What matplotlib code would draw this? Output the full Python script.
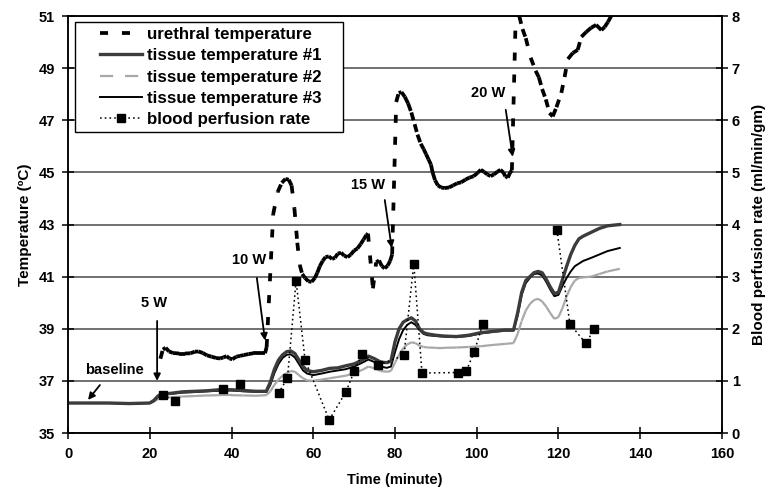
import numpy as np
import matplotlib
matplotlib.use('Agg')
import matplotlib.pyplot as plt
from matplotlib.lines import Line2D
from matplotlib.legend_handler import HandlerLine2D

plt.rcParams['font.family'] = ['Liberation Sans', 'DejaVu Sans']
plt.rcParams['font.weight'] = 'bold'
plt.rcParams['lines.scale_dashes'] = False

# ---------------- data ----------------
t_tissue = [0, 5, 10, 15, 20, 21, 22, 23, 25, 28, 31, 34, 37, 40, 43, 46, 48.5, 49.5, 50.5,
            51.5, 52.5, 53.5, 54.5, 55.5, 56.5, 57.5, 58.5, 60, 62, 64, 66, 68, 70, 72, 73.5,
            75, 76.5, 78, 79, 80, 81, 82, 83, 84, 85, 86, 87, 88, 90, 92, 95, 98, 101, 104,
            107, 109, 110, 111, 112, 113, 114, 115, 116, 117, 118, 119, 120, 121, 122, 123,
            124, 125, 126, 128, 130, 132, 135]
tissue1 = [36.15, 36.15, 36.15, 36.13, 36.15, 36.25, 36.42, 36.5, 36.52, 36.58, 36.6, 36.62,
           36.66, 36.66, 36.63, 36.6, 36.6, 36.95, 37.45, 37.8, 38.0, 38.12, 38.15, 38.05,
           37.8, 37.55, 37.4, 37.35, 37.4, 37.48, 37.5, 37.58, 37.65, 37.8, 37.95, 37.85,
           37.72, 37.7, 37.75, 38.5, 39.0, 39.25, 39.35, 39.42, 39.3, 39.0, 38.85, 38.8,
           38.75, 38.72, 38.7, 38.75, 38.85, 38.9, 38.95, 38.95, 39.6, 40.4, 40.85, 41.0,
           41.15, 41.2, 41.15, 40.9, 40.6, 40.35, 40.4, 40.9, 41.4, 41.85, 42.2, 42.45,
           42.55, 42.7, 42.85, 42.95, 43.0]
tissue2 = [36.15, 36.15, 36.15, 36.14, 36.15, 36.2, 36.3, 36.35, 36.37, 36.4, 36.42, 36.44,
           36.45, 36.45, 36.44, 36.43, 36.45, 36.6, 36.85, 37.05, 37.2, 37.3, 37.38, 37.35,
           37.22, 37.1, 37.02, 37.0, 37.05, 37.1, 37.15, 37.2, 37.3, 37.42, 37.55, 37.48,
           37.38, 37.35, 37.38, 37.7, 38.0, 38.25, 38.4, 38.48, 38.45, 38.35, 38.3, 38.28,
           38.27, 38.27, 38.28, 38.3, 38.33, 38.38, 38.42, 38.45, 38.8, 39.3, 39.7, 39.95,
           40.1, 40.15, 40.05, 39.85, 39.6, 39.38, 39.45, 39.8, 40.25, 40.6, 40.85, 40.95,
           40.97, 41.0, 41.1, 41.2, 41.3]
tissue3 = [36.15, 36.15, 36.15, 36.13, 36.15, 36.22, 36.38, 36.45, 36.5, 36.55, 36.57, 36.6,
           36.62, 36.63, 36.6, 36.58, 36.57, 36.85, 37.3, 37.65, 37.88, 38.0, 38.02, 37.9,
           37.65, 37.4, 37.28, 37.22, 37.28, 37.35, 37.4, 37.45, 37.55, 37.7, 37.82, 37.72,
           37.55, 37.5, 37.55, 38.1, 38.6, 38.95, 39.15, 39.25, 39.15, 38.95, 38.8, 38.75,
           38.72, 38.7, 38.68, 38.72, 38.82, 38.88, 38.93, 38.93, 39.5, 40.3, 40.75, 40.95,
           41.1, 41.12, 41.05, 40.8, 40.5, 40.25, 40.3, 40.65, 40.95, 41.2, 41.4, 41.5,
           41.6, 41.72, 41.85, 41.98, 42.1]

t_urethral = [22.6, 23.2, 23.9, 24.7, 25.7, 27.2, 28.6, 30.0, 31.0, 31.9, 33.0, 34.0, 35.1,
              36.2, 37.2, 38.0, 38.8, 39.5, 40.2, 41.2, 42.1, 43.0, 44.2, 45.3, 46.5, 47.5,
              48.2, 48.6, 50.2, 51.3, 52.3, 53.2, 54.0, 54.7, 55.4, 56.1, 56.7, 57.3, 58.0,
              58.8, 59.6, 60.4, 61.0, 61.6, 62.3, 63.0, 63.8, 64.6, 65.3, 66.0, 66.8, 67.6,
              68.4, 69.2, 70.0, 70.8, 71.6, 72.3, 73.0, 73.4, 74.6, 75.4, 76.1, 76.8, 77.5,
              78.2, 78.8, 79.3, 80.3, 80.9, 81.6, 82.4, 83.2, 84.0, 84.8, 85.5, 86.3, 87.0,
              87.6, 88.2, 88.8, 89.2, 89.8, 90.5, 91.3, 92.2, 93.2, 94.2, 95.2, 96.2, 97.2,
              98.2, 99.2, 100.2, 101.0, 101.8, 102.6, 103.4, 104.2, 105.0, 105.8, 106.5,
              107.0, 107.6, 108.2, 108.6, 109.6, 110.4, 111.2, 112.0, 113.2, 114.4, 115.2,
              116.0, 116.9, 117.8, 118.6, 119.5, 120.7, 121.5, 122.3, 123.5, 124.7, 125.6,
              126.8, 128.0, 129.2, 130.5, 131.3, 132.1, 132.9, 133.5]
urethral = [37.85, 38.2, 38.27, 38.13, 38.07, 38.05, 38.05, 38.06, 38.12, 38.13, 38.07, 37.98,
            37.93, 37.88, 37.86, 37.9, 37.95, 37.86, 37.83, 37.93, 37.96, 37.99, 38.03, 38.06,
            38.06, 38.06, 38.06, 38.3, 43.4, 44.25, 44.6, 44.75, 44.72, 44.5, 43.6, 42.3,
            41.45, 41.1, 40.95, 40.82, 40.8, 40.95, 41.15, 41.4, 41.6, 41.75, 41.78, 41.68,
            41.72, 41.88, 41.92, 41.8, 41.75, 41.85, 42.0, 42.08, 42.25, 42.42, 42.6, 42.65,
            40.55, 41.55, 41.62, 41.4, 41.32, 41.42, 41.6, 41.85, 47.7, 48.05, 48.08, 47.9,
            47.65, 47.3, 46.85, 46.45, 46.1, 45.9, 45.7, 45.5, 45.3, 45.0, 44.7, 44.5, 44.42,
            44.4, 44.42, 44.5, 44.58, 44.62, 44.72, 44.8, 44.85, 44.98, 45.1, 45.02, 44.92,
            44.86, 44.92, 45.02, 45.1, 45.0, 44.85, 44.8, 45.0, 45.08, 51.4, 51.0, 50.5,
            50.15, 49.4, 48.9, 48.65, 48.2, 47.8, 47.28, 47.15, 47.5, 48.05, 48.66, 49.35,
            49.58, 49.7, 50.2, 50.39, 50.55, 50.66, 50.46, 50.58, 50.77, 51.0, 51.2]

nan = np.nan
t_perfusion = [23.2, 26.1, nan, 37.9, nan, 42.0, nan, 51.5, 53.7, 55.8, 58.0, 63.9, 68.0,
               70.0, 72.0, 75.9, 82.2, 84.6, 86.6, 95.4, 97.4, 99.4, 101.5, nan, 119.6,
               122.8, 126.7, 128.8]
perfusion = [0.73, 0.62, nan, 0.84, nan, 0.94, nan, 0.76, 1.06, 2.92, 1.4, 0.25, 0.79,
             1.18, 1.52, 1.3, 1.49, 3.25, 1.15, 1.16, 1.18, 1.56, 2.1, nan, 3.9,
             2.09, 1.72, 2.0]

x_ticks = [0, 20, 40, 60, 80, 100, 120, 140, 160]
temp_ticks = [35, 37, 39, 41, 43, 45, 47, 49, 51]
perf_ticks = [0, 1, 2, 3, 4, 5, 6, 7, 8]
legend_labels = ["urethral temperature", "tissue temperature #1", "tissue temperature #2",
                 "tissue temperature #3", "blood perfusion rate"]
power_labels = ["baseline", "5 W", "10 W", "15 W", "20 W"]

# ---------------- styles ----------------
U_STYLE = dict(color='black', lw=2.7, ls=(0, (5.8, 10.0)), solid_capstyle='butt',
               dash_capstyle='butt')
T1_STYLE = dict(color='#3c3c3c', lw=2.4)
T2_STYLE = dict(color='#a8a8a8', lw=1.6, ls=(0, (9.5, 8.5)), dash_capstyle='butt')
T3_STYLE = dict(color='black', lw=1.4)
P_STYLE = dict(color='black', lw=1.1, ls=(0, (1.2, 2.2)), marker='s', markersize=5.8,
               markerfacecolor='black', markeredgecolor='black')


def segment_plot(ax, x, y, **kw):
    # Excel-like rendering: dash pattern restarts at every data point
    for i in range(len(x) - 1):
        ax.plot(x[i:i + 2], y[i:i + 2], **kw)


fig = plt.figure(figsize=(7.8, 4.93), dpi=100)
ax = fig.add_axes([0.0872, 0.1217, 0.8384, 0.8458])
ax2 = ax.twinx()

ax.set_xlim(0, 160)
ax.set_ylim(35, 51)
ax2.set_ylim(0, 8)
ax.set_xticks(x_ticks)
ax.set_yticks(temp_ticks)
ax2.set_yticks(perf_ticks)

ax.yaxis.grid(True, color='#4a4a4a', lw=1.1)
ax.set_axisbelow(True)

segment_plot(ax, t_tissue, tissue2, zorder=2, **T2_STYLE)
ax.plot(t_tissue, tissue3, zorder=3, **T3_STYLE)
ax.plot(t_tissue, tissue1, zorder=3, **T1_STYLE)
segment_plot(ax, t_urethral, urethral, zorder=4, **U_STYLE)
ax2.plot(t_perfusion, perfusion, zorder=5, **P_STYLE)

for a in (ax, ax2):
    for s in a.spines.values():
        s.set_linewidth(1.1)
        s.set_color('black')

ax.tick_params(axis='both', direction='inout', length=8, width=1.1, labelsize=10.5)
ax.tick_params(axis='x', pad=6)
ax.tick_params(axis='y', pad=5.5)
ax2.tick_params(axis='y', direction='inout', length=8, width=1.1, labelsize=10.5, pad=3)
for lab in ax.get_xticklabels() + ax.get_yticklabels() + ax2.get_yticklabels():
    lab.set_fontweight('bold')

ax.set_xlabel("Time (minute)", fontsize=10.5, fontweight='bold', labelpad=9)
ax.set_ylabel("Temperature (ºC)", fontsize=11, fontweight='bold', labelpad=5)
ax2.set_ylabel("Blood perfusion rate (ml/min/gm)", fontsize=11, fontweight='bold',
               labelpad=9)

# annotations (power steps)
arrow_kw = dict(arrowstyle='-|>', color='black', lw=1.3, mutation_scale=10,
                shrinkA=0, shrinkB=0)
txt_kw = dict(fontsize=10.5, fontweight='bold', ha='center', va='center', zorder=6)
ann = [
    (power_labels[0], (11.3, 37.42), (7.8, 36.84), (4.9, 36.27)),
    (power_labels[1], (21.0, 40.0), (21.8, 39.3), (21.8, 37.0)),
    (power_labels[2], (44.3, 41.64), (46.2, 40.95), (48.2, 38.55)),
    (power_labels[3], (73.3, 44.5), (77.5, 43.94), (79.2, 42.1)),
    (power_labels[4], (102.7, 48.05), (107.1, 47.4), (108.8, 45.6)),
]
for label, tpos, a0, a1 in ann:
    ax.text(tpos[0], tpos[1], label, **txt_kw)
    ax.annotate('', xy=a1, xytext=a0, arrowprops=arrow_kw, zorder=6)

# legend
handles = [
    Line2D([], [], color='black', lw=2.7, ls=(0, (5.8, 10.0)), dash_capstyle='butt'),
    Line2D([], [], **T1_STYLE),
    Line2D([], [], color='#a8a8a8', lw=1.6, ls=(0, (9.5, 8.5))),
    Line2D([], [], **T3_STYLE),
    Line2D([], [], **P_STYLE),
]
leg = ax2.legend(handles, legend_labels, loc='upper left',
                 bbox_to_anchor=(7 / 654, 0, 268 / 654, 1 - 6 / 417), mode='expand',
                 borderaxespad=0,
                 prop=dict(weight='bold', size=12.2), frameon=True, fancybox=False,
                 edgecolor='black', framealpha=1, handlelength=3.67, handletextpad=0.3,
                 borderpad=0.3, labelspacing=0.37, numpoints=1,
                 handler_map={Line2D: HandlerLine2D(xpad=1.18)})
leg.get_frame().set_linewidth(1.0)
leg.set_zorder(10)

fig.savefig('out.png', dpi=100)
